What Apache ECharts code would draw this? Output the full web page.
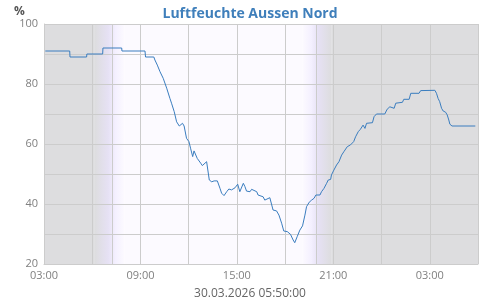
<!DOCTYPE html>
<html>
<head>
<meta charset="utf-8">
<script src="https://cdn.jsdelivr.net/npm/echarts@6/dist/echarts.min.js"></script>
<style>html,body{margin:0;padding:0;background:#fff}#c{width:500px;height:300px}</style>
</head>
<body>
<div id="c"></div>
<script>
// minutes since 29.03.2026 03:00
const minutes = [5,96,97,159,160,219,220,290,291,377,379,410,414,423,433,445,458,470,476,486,495,505,510,517,523,532,541,547,555,560,567,572,578,585,591,607,613,617,626,635,647,657,663,672,682,690,700,706,713,723,731,738,744,750,756,769,775,781,794,799,818,824,843,849,855,868,877,887,895,908,920,930,936,945,955,965,974,980,990,999,1008,1015,1030,1036,1045,1055,1061,1070,1073,1082,1092,1101,1111,1119,1132,1144,1156,1163,1173,1181,1191,1198,1204,1226,1232,1241,1272,1281,1291,1297,1307,1313,1338,1343,1363,1369,1400,1406,1459,1465,1471,1477,1484,1490,1499,1505,1511,1515,1523,1610];
const humidity = [91,91,89,89,90,90,92,92,91,91,89,89,88,86.3,84.1,81.9,78.6,75.2,73.6,70.8,67.4,66,65.6,66.9,66,61.9,60.8,58.6,55.8,57.7,57.4,55.2,55.8,53.6,52.8,54.1,53.6,48,47.4,47.7,47.7,45.2,43.6,42.8,44.1,45,44.7,44.1,45.4,46.6,44.1,44.7,46.9,45.8,44.3,44.1,44.9,44.7,44.1,43,42.4,41.3,42.1,42.2,38,37.7,36.3,33.6,31,30.8,29.9,28,27.1,29.1,31.3,32.7,36.3,39.1,40.6,41.3,41.9,43,43,44.1,45.2,46.9,48,48.2,49.7,51.3,53,54.1,56.3,57.4,59.1,59.7,60.8,62.4,64.1,64.9,66.3,65.2,66.9,67.1,69.1,70,70,71.6,72.4,71.9,71.9,73.6,73.9,74.9,74.9,76.9,76.9,77.8,77.9,76.9,75.2,74.1,71.9,71,70.6,69.7,68,66.6,66,66];
const yTicks = [20,40,60,80,100];
const sunriseMin = 254, sunsetMin = 1018;
const dawn = [190, 300], dusk = [965, 1072];
const titleText = 'Luftfeuchte Aussen Nord';
const unitText = '%';
const stampText = '30.03.2026 05:50:00';

const night = '#dddddf', day = '#fcfaff';
const grad = (rev) => ({type:'linear', x:0, y:0, x2:1, y2:0, colorStops: rev ?
  [{offset:0,color:day},{offset:0.3,color:'#f4f0ff'},{offset:0.55,color:'#e6e1f4'},{offset:1,color:night}] :
  [{offset:0,color:night},{offset:0.45,color:'#e6e1f4'},{offset:0.7,color:'#f4f0ff'},{offset:1,color:day}]});

const data = minutes.map((m,i)=>[m, humidity[i]]);
const fmt = m => { const h = (3 + Math.round(m/60)) % 24; return (h<10?'0':'')+h+':00'; };

const chart = echarts.init(document.getElementById('c'), null, {renderer:'canvas'});
chart.setOption({
  animation:false,
  backgroundColor:'#ffffff',
  title:[
    {text:titleText, left:'center', top:2, textStyle:{fontFamily:'Open Sans', fontSize:14, fontWeight:'bold', color:'#3f7fbb'}},
    {text:unitText, left:9, top:1, textStyle:{fontFamily:'Open Sans', fontSize:12, fontWeight:'bold', color:'#555'}},
    {text:stampText, left:'center', top:283, textStyle:{fontFamily:'Open Sans', fontSize:12, fontWeight:'normal', color:'#666'}}
  ],
  grid:{left:44, right:22, top:24, bottom:36, containLabel:false},
  xAxis:{type:'value', min:0, max:1620, interval:180, z:3,
    axisLine:{show:true, lineStyle:{color:'#cccccc'}},
    axisTick:{show:false},
    splitLine:{show:true, lineStyle:{color:'#cccccc', width:1}},
    axisLabel:{color:'#808080', fontFamily:'Open Sans', fontSize:11, margin:6,
      formatter: v => (v % 360 === 0 && v < 1620) ? fmt(v) : ''}
  },
  yAxis:{type:'value', min:20, max:100, interval:10, z:3,
    axisLine:{show:true, lineStyle:{color:'#cccccc'}},
    axisTick:{show:false},
    splitLine:{show:true, lineStyle:{color:'#cccccc', width:1}},
    axisLabel:{color:'#808080', fontFamily:'Open Sans', fontSize:11, margin:6,
      formatter: v => yTicks.includes(v) ? String(v) : ''}
  },
  series:[{
    type:'line', data:[], z:1, silent:true,
    markArea:{silent:true, data:[
      [{xAxis:0, itemStyle:{color:night}},{xAxis:dawn[0]}],
      [{xAxis:dawn[0], itemStyle:{color:grad(false)}},{xAxis:dawn[1]}],
      [{xAxis:dawn[1], itemStyle:{color:day}},{xAxis:dusk[0]}],
      [{xAxis:dusk[0], itemStyle:{color:grad(true)}},{xAxis:dusk[1]}],
      [{xAxis:dusk[1], itemStyle:{color:night}},{xAxis:1620}]
    ]}
  },{
    type:'line', data:data, showSymbol:false, symbol:'none',
    lineStyle:{color:'#3a7dbf', width:1}, z:5,
    markLine:{silent:true, symbol:['none','none'], label:{show:false},
      lineStyle:{color:'#cccccc', type:'solid', width:1},
      data:[{xAxis:sunriseMin},{xAxis:sunsetMin}]}
  }]
});
</script>
</body>
</html>
